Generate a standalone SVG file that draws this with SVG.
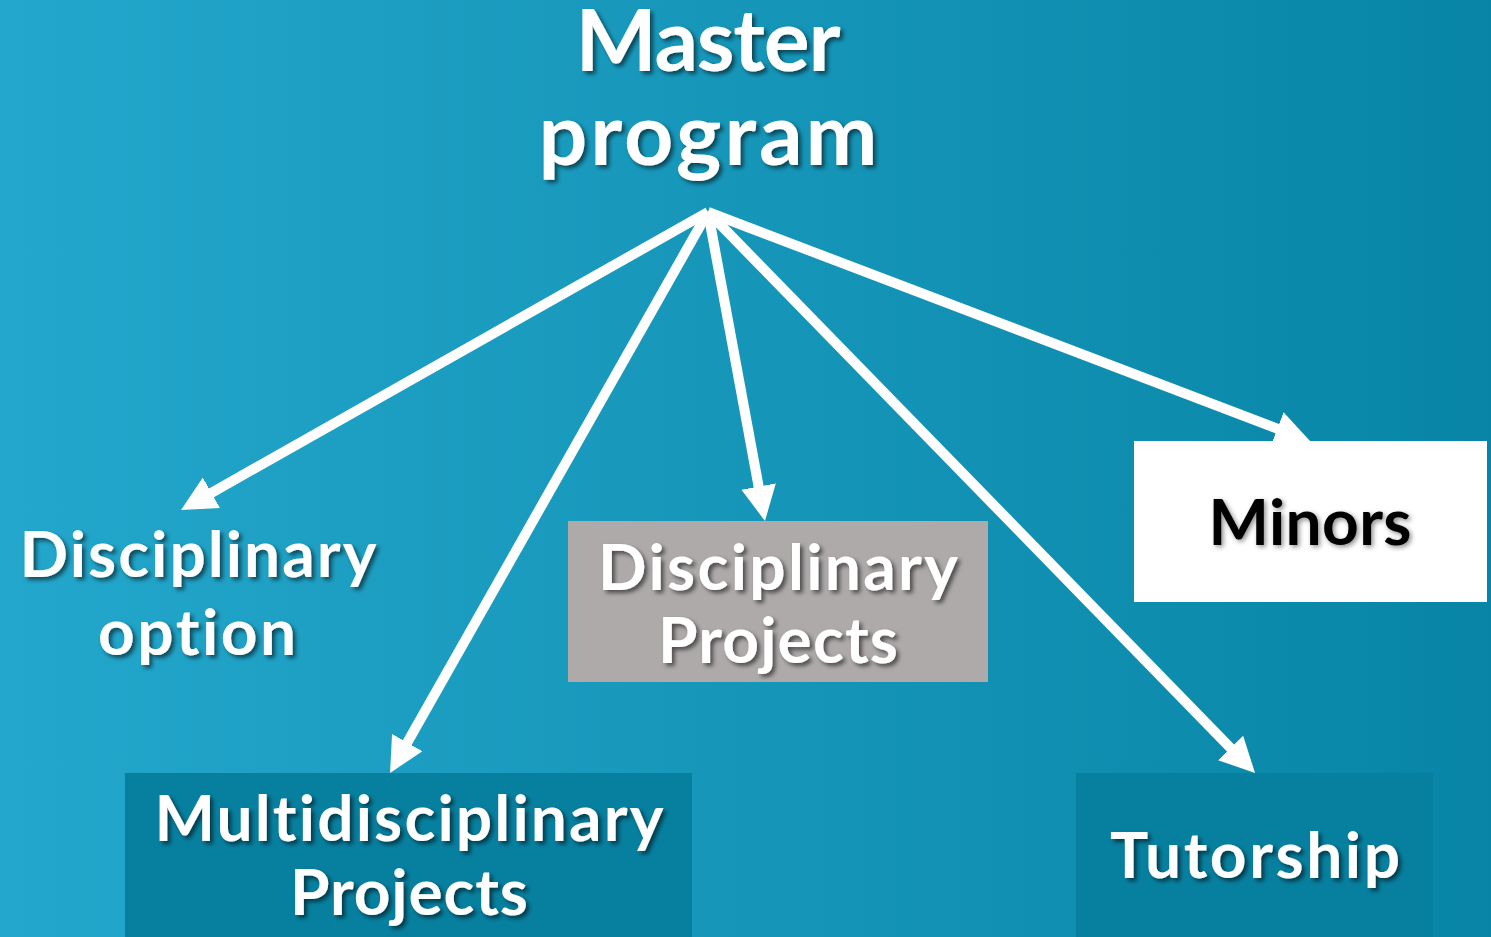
<svg xmlns="http://www.w3.org/2000/svg" width="1491" height="937" viewBox="0 0 1491 937">
<defs>
<linearGradient id="bg" x1="0" y1="0" x2="1" y2="0">
<stop offset="0" stop-color="#23a7cc"/>
<stop offset="1" stop-color="#0885a6"/>
</linearGradient>
<filter id="sh" x="-10%" y="-20%" width="130%" height="150%">
<feDropShadow dx="3" dy="3" stdDeviation="2" flood-color="#000" flood-opacity="0.55"/>
</filter>
<filter id="shd" x="-10%" y="-20%" width="130%" height="150%">
<feDropShadow dx="2" dy="2" stdDeviation="2.5" flood-color="#000" flood-opacity="0.45"/>
</filter>
<marker id="ah" markerUnits="userSpaceOnUse" markerWidth="36" markerHeight="36" viewBox="0 0 36 36" refX="2" refY="17.5" orient="auto">
<path d="M0,0 L35,17.5 L0,35 Z" fill="#fff"/>
</marker>
</defs>
<style>
.t{font-family:Lato,"Open Sans","Liberation Sans",sans-serif;font-weight:bold;fill:#fff;text-anchor:middle;filter:url(#sh);font-variant-ligatures:none}
.big{font-size:86px}
.mid{font-size:64px}
.conn line{stroke:#fff;stroke-width:10;marker-end:url(#ah)}
</style>
<rect width="1491" height="937" fill="url(#bg)"/>
<g id="connectors" class="conn">
<line x1="708" y1="212" x2="209.7" y2="493.8"/>
<line x1="708" y1="212" x2="406.3" y2="744.3"/>
<line x1="708" y1="212" x2="759" y2="488.5"/>
<line x1="708" y1="212" x2="1232" y2="749.4"/>
<line x1="708" y1="212" x2="1279.2" y2="429.3"/>
</g>
<g id="master">
<text class="t big" x="708" y="71" textLength="265" lengthAdjust="spacing">Master</text>
<text class="t big" x="708" y="165" textLength="339" lengthAdjust="spacing">program</text>
</g>
<g id="disciplinary-option">
<text class="t mid" x="198" y="577" textLength="357" lengthAdjust="spacing">Disciplinary</text>
<text class="t mid" x="197" y="655" textLength="198" lengthAdjust="spacing">option</text>
</g>
<g id="disciplinary-projects">
<rect x="568" y="521" width="420" height="161" fill="#aeaaaa"/>
<text class="t mid" x="778" y="590" textLength="360" lengthAdjust="spacing">Disciplinary</text>
<text class="t mid" x="778" y="663" textLength="240" lengthAdjust="spacing">Projects</text>
</g>
<g id="minors">
<rect x="1134" y="441" width="353" height="161" fill="#fff"/>
<text class="t mid" x="1310" y="545" textLength="203" lengthAdjust="spacing" style="fill:#000;filter:url(#shd)">Minors</text>
</g>
<g id="multidisciplinary-projects">
<rect x="125" y="773" width="567" height="164" fill="#077f9f"/>
<text class="t mid" x="409" y="841" textLength="509" lengthAdjust="spacing">Multidisciplinary</text>
<text class="t mid" x="409" y="915" textLength="238" lengthAdjust="spacing">Projects</text>
</g>
<g id="tutorship">
<rect x="1076" y="773" width="357" height="164" fill="#077f9f"/>
<text class="t mid" x="1255" y="878" textLength="290" lengthAdjust="spacing">Tutorship</text>
</g>
</svg>
